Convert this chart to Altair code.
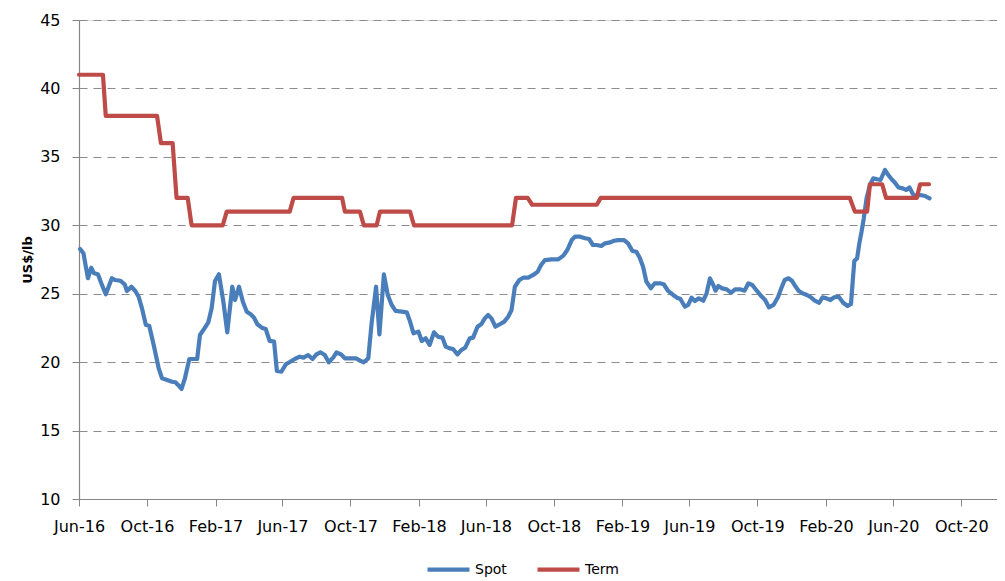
import altair as alt
import pandas as pd

# Spot price (US$/lb), weekly-ish readings
spot_dates = [
    "2016-06-03", "2016-06-09", "2016-06-17", "2016-06-23", "2016-06-28", "2016-07-05", "2016-07-11", "2016-07-19",
    "2016-07-30", "2016-08-05", "2016-08-14", "2016-08-22", "2016-08-26", "2016-09-03", "2016-09-10", "2016-09-16",
    "2016-09-22", "2016-09-29", "2016-10-05", "2016-10-13", "2016-10-22", "2016-10-28", "2016-11-06", "2016-11-15",
    "2016-11-21", "2016-11-27", "2016-12-02", "2016-12-08", "2016-12-16", "2016-12-30", "2017-01-04", "2017-01-11",
    "2017-01-19", "2017-01-25", "2017-01-31", "2017-02-07", "2017-02-15", "2017-02-22", "2017-03-03", "2017-03-08",
    "2017-03-15", "2017-03-22", "2017-03-29", "2017-04-05", "2017-04-11", "2017-04-17", "2017-04-25", "2017-05-02",
    "2017-05-09", "2017-05-17", "2017-05-22", "2017-05-30", "2017-06-07", "2017-06-15", "2017-06-23", "2017-07-02",
    "2017-07-09", "2017-07-17", "2017-07-25", "2017-08-01", "2017-08-08", "2017-08-16", "2017-08-23", "2017-08-31",
    "2017-09-06", "2017-09-14", "2017-09-21", "2017-09-30", "2017-10-11", "2017-10-18", "2017-10-25", "2017-11-02",
    "2017-11-08", "2017-11-16", "2017-11-22", "2017-11-30", "2017-12-07", "2017-12-14", "2017-12-21", "2018-01-01",
    "2018-01-10", "2018-01-16", "2018-01-22", "2018-01-31", "2018-02-06", "2018-02-13", "2018-02-20", "2018-02-28",
    "2018-03-07", "2018-03-15", "2018-03-21", "2018-03-28", "2018-04-03", "2018-04-11", "2018-04-18", "2018-04-25",
    "2018-05-03", "2018-05-09", "2018-05-17", "2018-05-24", "2018-05-30", "2018-06-05", "2018-06-11", "2018-06-18",
    "2018-06-26", "2018-07-04", "2018-07-11", "2018-07-17", "2018-07-23", "2018-07-31", "2018-08-07", "2018-08-16",
    "2018-08-25", "2018-09-02", "2018-09-08", "2018-09-15", "2018-09-27", "2018-10-09", "2018-10-18", "2018-10-25",
    "2018-11-02", "2018-11-08", "2018-11-17", "2018-11-26", "2018-12-03", "2018-12-10", "2018-12-17", "2018-12-25",
    "2019-01-01", "2019-01-10", "2019-01-17", "2019-01-24", "2019-02-04", "2019-02-11", "2019-02-19", "2019-02-26",
    "2019-03-04", "2019-03-10", "2019-03-16", "2019-03-24", "2019-03-31", "2019-04-09", "2019-04-16", "2019-04-24",
    "2019-05-03", "2019-05-10", "2019-05-16", "2019-05-24", "2019-05-30", "2019-06-05", "2019-06-11", "2019-06-18",
    "2019-06-26", "2019-07-02", "2019-07-08", "2019-07-14", "2019-07-18", "2019-07-23", "2019-07-30", "2019-08-07",
    "2019-08-15", "2019-08-22", "2019-08-31", "2019-09-08", "2019-09-15", "2019-09-22", "2019-09-30", "2019-10-08",
    "2019-10-15", "2019-10-22", "2019-10-30", "2019-11-07", "2019-11-13", "2019-11-19", "2019-11-26", "2019-12-02",
    "2019-12-08", "2019-12-14", "2019-12-21", "2019-12-29", "2020-01-05", "2020-01-12", "2020-01-20", "2020-01-26",
    "2020-02-02", "2020-02-09", "2020-02-16", "2020-02-24", "2020-03-03", "2020-03-11", "2020-03-17", "2020-03-23",
    "2020-03-28", "2020-04-01", "2020-04-05", "2020-04-09", "2020-04-14", "2020-04-20", "2020-04-26", "2020-05-03",
    "2020-05-09", "2020-05-17", "2020-05-23", "2020-05-29", "2020-06-04", "2020-06-10", "2020-06-18", "2020-06-24",
    "2020-06-30", "2020-07-06", "2020-07-12", "2020-07-19", "2020-07-28", "2020-08-05",
]
spot_values = [
    28.27, 27.95, 26.13, 26.90, 26.49, 26.42, 25.76, 24.96,
    26.13, 26.00, 25.95, 25.69, 25.20, 25.51, 25.20, 24.78,
    23.93, 22.71, 22.66, 21.25, 19.55, 18.82, 18.70, 18.57,
    18.53, 18.28, 18.04, 18.82, 20.23, 20.23, 21.98, 22.40,
    22.91, 23.93, 25.93, 26.42, 24.42, 22.18, 25.51, 24.54,
    25.51, 24.42, 23.69, 23.50, 23.25, 22.77, 22.52, 22.42,
    21.55, 21.50, 19.35, 19.30, 19.84, 20.03, 20.23, 20.40,
    20.33, 20.52, 20.23, 20.57, 20.72, 20.52, 19.99, 20.33,
    20.72, 20.57, 20.28, 20.28, 20.28, 20.11, 19.99, 20.28,
    22.84, 25.51, 22.03, 26.42, 24.90, 24.18, 23.74, 23.69,
    23.64, 22.96, 22.11, 22.23, 21.55, 21.74, 21.25, 22.18,
    21.86, 21.79, 21.13, 21.01, 20.96, 20.57, 20.89, 21.06,
    21.74, 21.79, 22.59, 22.79, 23.20, 23.45, 23.20, 22.59,
    22.77, 22.96, 23.32, 23.81, 25.51, 26.00, 26.17, 26.17,
    26.37, 26.61, 27.10, 27.46, 27.51, 27.51, 27.78, 28.19,
    28.92, 29.17, 29.17, 29.05, 29.00, 28.56, 28.56, 28.49,
    28.68, 28.75, 28.87, 28.92, 28.92, 28.68, 28.12, 28.07,
    27.63, 26.97, 25.88, 25.40, 25.76, 25.76, 25.69, 25.20,
    24.91, 24.71, 24.61, 24.05, 24.18, 24.71, 24.47, 24.66,
    24.49, 25.03, 26.12, 25.64, 25.22, 25.56, 25.39, 25.32,
    25.07, 25.32, 25.32, 25.22, 25.76, 25.64, 25.22, 24.83,
    24.54, 24.00, 24.18, 24.74, 25.40, 26.00, 26.13, 25.95,
    25.56, 25.22, 25.03, 24.91, 24.74, 24.49, 24.34, 24.74,
    24.66, 24.54, 24.74, 24.78, 24.34, 24.10, 24.25, 27.40,
    27.58, 28.68, 29.53, 30.51, 31.97, 32.94, 33.43, 33.36,
    33.31, 34.04, 33.67, 33.36, 33.11, 32.77, 32.70, 32.58,
    32.77, 32.29, 32.14, 32.21, 32.14, 31.97,
]

# Term price (US$/lb): flat periods
term_start = [
    "2016-06-01", "2016-07-19", "2016-10-26", "2016-11-23", "2016-12-20", "2017-02-21",
    "2017-06-21", "2017-09-21", "2017-10-25", "2017-11-23", "2018-01-23", "2018-07-25",
    "2018-08-23", "2018-12-24", "2020-03-24", "2020-04-20", "2020-05-19", "2020-07-19",
]
term_end = [
    "2016-07-14", "2016-10-19", "2016-11-16", "2016-12-13", "2017-02-14", "2017-06-14",
    "2017-09-16", "2017-10-18", "2017-11-17", "2018-01-16", "2018-07-18", "2018-08-15",
    "2018-12-17", "2020-03-15", "2020-04-15", "2020-05-12", "2020-07-13", "2020-08-04",
]
term_values = [41, 38, 36, 32, 30, 31, 32, 31, 30, 31, 30, 32, 31.5, 32, 31, 33, 32, 33]

series_names = ["Spot", "Term"]
series_colors = ["#4a7ebb", "#be4b48"]

y_ticks = [10, 15, 20, 25, 30, 35, 40, 45]
x_tick_dates = [(2016, 6), (2016, 10), (2017, 2), (2017, 6), (2017, 10), (2018, 2), (2018, 6),
                (2018, 10), (2019, 2), (2019, 6), (2019, 10), (2020, 2), (2020, 6), (2020, 10)]

rows = []
for i, (d, v) in enumerate(zip(spot_dates, spot_values)):
    rows.append({"date": d, "price": v, "series": "Spot", "order": i})
k = 0
for s, e, v in zip(term_start, term_end, term_values):
    rows.append({"date": s, "price": v, "series": "Term", "order": k}); k += 1
    rows.append({"date": e, "price": v, "series": "Term", "order": k}); k += 1
df = pd.DataFrame(rows)

FONT = "DejaVu Sans"

chart = alt.Chart(df).mark_line(strokeWidth=4.2, strokeJoin="round", strokeCap="round").encode(
    x=alt.X(
        "date:T",
        scale=alt.Scale(
            type="utc",
            domain=[alt.DateTime(year=2016, month=6, date=1, utc=True),
                    alt.DateTime(year=2020, month=12, date=4, utc=True)],
        ),
        axis=alt.Axis(
            values=[alt.DateTime(year=y, month=m, date=1, utc=True) for y, m in x_tick_dates],
            labelExpr="utcFormat(datum.value, '%b-%y')", title=None, grid=False,
            labelFlush=False, labelOverlap=False,
            labelFont=FONT, labelFontSize=16, labelColor="#000000", labelPadding=12,
            domainColor="#868686", tickColor="#868686", tickSize=7, domainWidth=1.2,
        ),
    ),
    y=alt.Y(
        "price:Q",
        scale=alt.Scale(domain=[10, 45], nice=False, zero=False),
        axis=alt.Axis(
            values=y_ticks, title="US$/lb", grid=True,
            gridDash=[8, 6], gridColor="#8c8c8c", gridWidth=1.2,
            labelFont=FONT, labelFontSize=16, labelColor="#000000", labelPadding=12,
            titleFont=FONT, titleFontSize=13, titleFontWeight="bold", titleColor="#000000",
            titlePadding=5,
            domainColor="#868686", tickColor="#868686", tickSize=7, domainWidth=1.2,
        ),
    ),
    color=alt.Color(
        "series:N",
        scale=alt.Scale(domain=series_names, range=series_colors),
        legend=alt.Legend(
            orient="none", legendX=346, legendY=526, direction="horizontal", title=None,
            symbolType="stroke", symbolSize=1764, symbolStrokeWidth=4.2,
            labelFont=FONT, labelFontSize=14, labelColor="#000000", labelOffset=3,
            columnPadding=22, padding=0,
        ),
    ),
    order="order:Q",
).properties(
    width=918,
    height=479,
    padding={"left": 71, "top": 12, "right": 0, "bottom": 81},
    autosize=alt.AutoSizeParams(type="none"),
).configure_view(stroke=None).configure(background="#ffffff")

chart.save("out.html", embed_options={"renderer": "svg", "actions": False})
